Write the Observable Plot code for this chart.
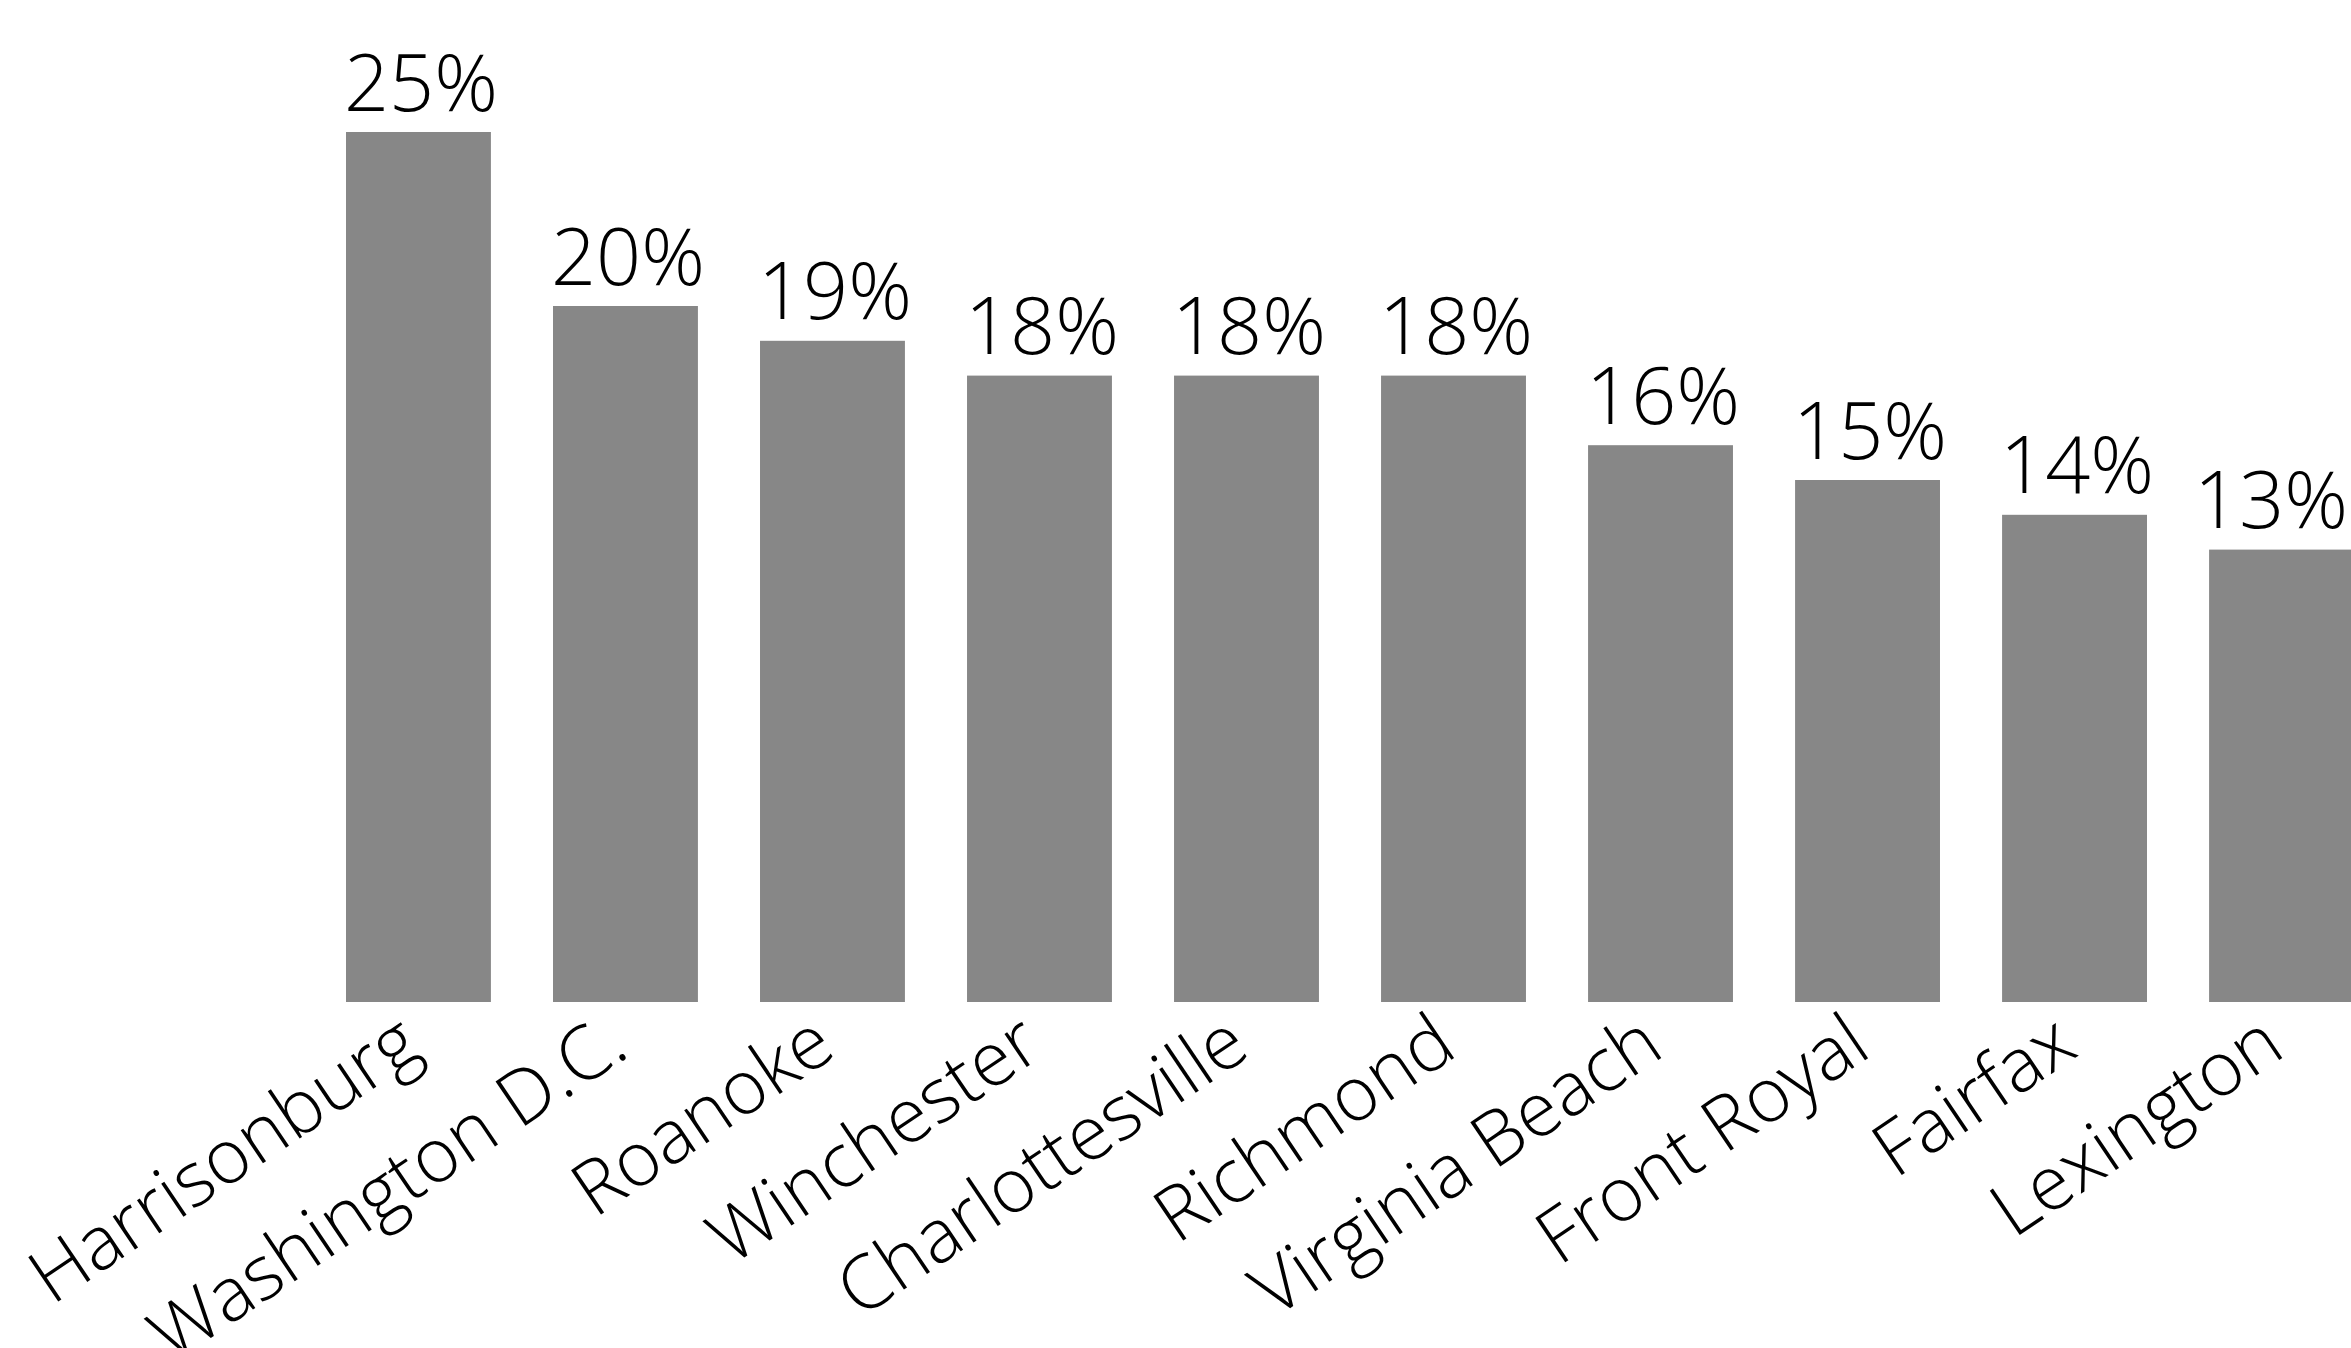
<!DOCTYPE html>
<html>
<head>
<meta charset="utf-8">
<script src="https://cdn.jsdelivr.net/npm/d3@7"></script>
<script src="https://cdn.jsdelivr.net/npm/@observablehq/plot@0.6"></script>
<style>
  html, body { margin: 0; padding: 0; background: #fff; }
  #chart svg { display: block; }
</style>
</head>
<body>
<div id="chart"></div>
<script>
const cities = ["Harrisonburg", "Washington D.C.", "Roanoke", "Winchester", "Charlottesville", "Richmond", "Virginia Beach", "Front Royal", "Fairfax", "Lexington"];
const shares = [25, 20, 19, 18, 18, 18, 16, 15, 14, 13];
const valueLabels = ["25%", "20%", "19%", "18%", "18%", "18%", "16%", "15%", "14%", "13%"];

const data = cities.map((city, i) => ({city, share: shares[i], label: valueLabels[i]}));
const lastCity = cities[cities.length - 1];

const FONT = "'Open Sans', 'Noto Sans', sans-serif";

const chart = Plot.plot({
  width: 2351,
  height: 1348,
  marginLeft: 346,
  marginRight: -3,
  marginTop: 132,
  marginBottom: 346,
  style: {fontFamily: FONT, background: "#fff", color: "#000"},
  x: {domain: cities, paddingInner: 0.3, paddingOuter: 0, align: 0, round: false},
  y: {domain: [0, 25], axis: null},
  marks: [
    Plot.barY(data, {x: "city", y: "share", fill: "#878787"}),
    Plot.text(data.filter(d => d.city !== lastCity), {x: "city", y: "share", text: "label", lineAnchor: "bottom", dy: -22, dx: 2, fontSize: 79, fontWeight: 300, fill: "#000"}),
    Plot.text(data.filter(d => d.city === lastCity), {x: "city", y: "share", text: "label", lineAnchor: "bottom", dy: -22, dx: -11, fontSize: 79, fontWeight: 300, fill: "#000"}),
    Plot.axisX({tickSize: 0, tickRotate: -34, tickPadding: 32, dx: -8, fontSize: 75, fontWeight: 300, fill: "#000", label: null})
  ]
});
document.getElementById("chart").appendChild(chart);
</script>
</body>
</html>
